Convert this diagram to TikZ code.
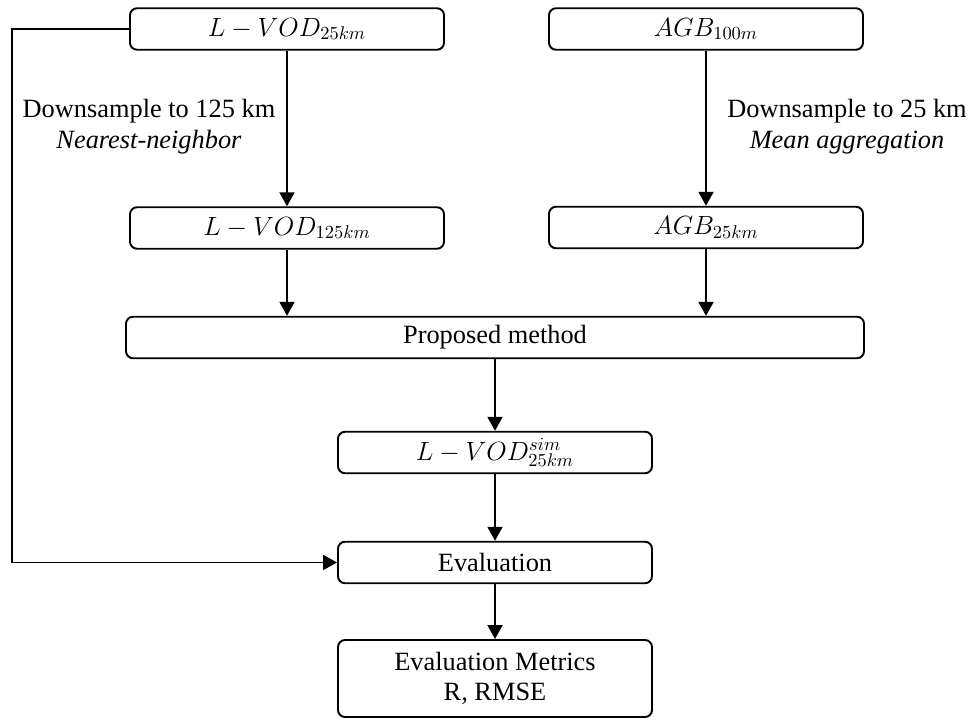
\RequirePackage{fix-cm}
\documentclass[tikz,border=0pt]{standalone}
\usepackage{fontspec}
\setmainfont{Liberation Serif}
\usetikzlibrary{arrows.meta}

\begin{document}
\begin{tikzpicture}[
  font=\fontsize{15}{17.5}\selectfont,
  stage/.style={
    draw,
    rounded corners=4pt,
    line width=1.1pt,
    minimum width=6.28cm,
    minimum height=0.83cm,
    align=center,
    inner sep=2pt
  },
  flow/.style={
    -{Triangle[length=0.28cm,width=0.3cm]},
    line width=1.1pt
  },
  note/.style={align=center}
]
  \useasboundingbox (0,0) rectangle (19.54,-14.36);

  % inputs
  \node[stage] (vodfine) at (5.74,-0.58) {$L-VOD_{25km}$};
  \node[stage] (agbfine) at (14.12,-0.58) {$AGB_{100m}$};
  \node[note] (vodnote) at (2.98,-2.54)
    {Downsample to 125 km\\\textit{Nearest-neighbor}};
  \node[note] (agbnote) at (16.94,-2.54)
    {Downsample to 25 km\\\textit{Mean aggregation}};
  \node[stage] (vodcoarse) at (5.74,-4.56) {$L-VOD_{125km}$};
  \node[stage] (agbcoarse) at (14.12,-4.55) {$AGB_{25km}$};

  % method and evaluation
  \node[stage,minimum width=14.76cm] (method) at (9.9,-6.75) {Proposed method};
  \node[stage] (vodsim) at (9.9,-9.05) {$L-VOD^{sim}_{25km}$};
  \node[stage] (evaluation) at (9.9,-11.25) {Evaluation};
  \node[stage,minimum height=1.54cm] (metrics) at (9.9,-13.57)
    {Evaluation Metrics\\R, RMSE};

  \draw[flow] (vodfine) -- (vodcoarse);
  \draw[flow] (agbfine) -- (agbcoarse);
  \draw[flow] (vodcoarse.south) -- (vodcoarse.south |- method.north);
  \draw[flow] (agbcoarse.south) -- (agbcoarse.south |- method.north);
  \draw[flow] (method) -- (vodsim);
  \draw[flow] (vodsim) -- (evaluation);
  \draw[flow] (evaluation) -- (metrics);
  \draw[flow] (vodfine.west) -- (0.24,-0.58) |- (evaluation.west);
\end{tikzpicture}
\end{document}
